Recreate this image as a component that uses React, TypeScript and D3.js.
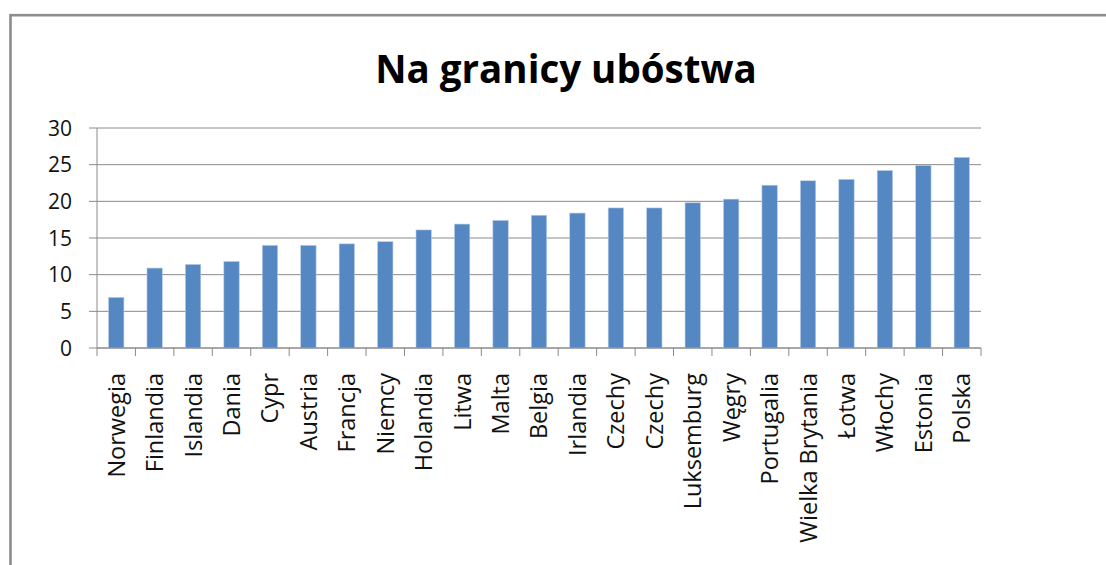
import React, { useEffect, useRef } from "react";
import * as d3 from "d3";

const countries = [
  "Norwegia", "Finlandia", "Islandia", "Dania", "Cypr", "Austria", "Francja",
  "Niemcy", "Holandia", "Litwa", "Malta", "Belgia", "Irlandia", "Czechy",
  "Czechy ", "Luksemburg", "Węgry", "Portugalia", "Wielka Brytania", "Łotwa",
  "Włochy", "Estonia", "Polska",
];
const values = [
  6.9, 10.9, 11.4, 11.8, 14.0, 14.0, 14.2, 14.5, 16.1, 16.9, 17.4, 18.1, 18.4,
  19.1, 19.1, 19.8, 20.3, 22.2, 22.8, 23.0, 24.2, 24.9, 26.0,
];
const yTicks = [0, 5, 10, 15, 20, 25, 30];
const title = "Na granicy ubóstwa";

const App = () => {
  const svgRef = useRef<SVGSVGElement>(null);

  useEffect(() => {
    const svg = d3.select(svgRef.current);
    svg.selectAll("*").remove();

    const width = 1106;
    const height = 565;
    const left = 97;
    const right = 981;
    const top = 128;
    const bottom = 348;
    const font = "'Open Sans', 'Noto Sans', sans-serif";
    const grid = "#8a8a8a";

    // Outer chart frame
    svg
      .append("rect")
      .attr("x", 10.5)
      .attr("y", 15.2)
      .attr("width", width)
      .attr("height", height)
      .attr("fill", "white")
      .attr("stroke", "#8c8c8c")
      .attr("stroke-width", 2.6);

    const x = d3
      .scaleBand()
      .domain(countries)
      .range([left, right])
      .paddingInner(0.6)
      .paddingOuter(0.3);

    const y = d3.scaleLinear().domain([0, 30]).range([bottom, top]);

    // Horizontal gridlines
    svg
      .append("g")
      .selectAll("line")
      .data(yTicks)
      .enter()
      .append("line")
      .attr("x1", left - 8)
      .attr("x2", right)
      .attr("y1", (d) => y(d))
      .attr("y2", (d) => y(d))
      .attr("stroke", grid)
      .attr("stroke-width", 1);

    // Y labels
    svg
      .append("g")
      .selectAll("text")
      .data(yTicks)
      .enter()
      .append("text")
      .attr("x", 72)
      .attr("y", (d) => y(d))
      .attr("dy", "0.36em")
      .attr("text-anchor", "end")
      .attr("font-family", font)
      .attr("font-size", 21)
      .attr("fill", "#111")
      .text((d) => d);

    // Y axis line
    svg
      .append("line")
      .attr("x1", left)
      .attr("x2", left)
      .attr("y1", top)
      .attr("y2", bottom)
      .attr("stroke", grid);

    // Bars
    svg
      .append("g")
      .selectAll("rect")
      .data(values)
      .enter()
      .append("rect")
      .attr("x", (d, i) => x(countries[i]) as number)
      .attr("y", (d) => y(d))
      .attr("width", x.bandwidth())
      .attr("height", (d) => y(0) - y(d))
      .attr("fill", "#5587c2")
      .attr("stroke", "#b9cde6")
      .attr("stroke-width", 0.6);

    // X axis with category ticks
    const step = x.step();
    const boundaries = d3.range(countries.length + 1).map((i) => left + i * step);
    svg
      .append("line")
      .attr("x1", left)
      .attr("x2", right)
      .attr("y1", bottom)
      .attr("y2", bottom)
      .attr("stroke", grid);
    svg
      .append("g")
      .selectAll("line")
      .data(boundaries)
      .enter()
      .append("line")
      .attr("x1", (d) => d)
      .attr("x2", (d) => d)
      .attr("y1", bottom)
      .attr("y2", bottom + 8)
      .attr("stroke", grid);

    // Category labels, rotated
    svg
      .append("g")
      .selectAll("text")
      .data(countries)
      .enter()
      .append("text")
      .attr(
        "transform",
        (d) => `translate(${(x(d) as number) + x.bandwidth() / 2},373) rotate(-90)`
      )
      .attr("dy", "0.36em")
      .attr("text-anchor", "end")
      .attr("font-family", font)
      .attr("font-size", 23.5)
      .attr("fill", "#111")
      .text((d) => d.trim());

    // Title
    svg
      .append("text")
      .attr("x", 566)
      .attr("y", 83)
      .attr("text-anchor", "middle")
      .attr("font-family", font)
      .attr("font-weight", "bold")
      .attr("font-size", 38.5)
      .attr("fill", "#000")
      .text(title);
  }, []);

  return (
    <svg
      ref={svgRef}
      width={1106}
      height={565}
      style={{ position: "absolute", left: 0, top: 0, background: "white" }}
    ></svg>
  );
};

export default App;
